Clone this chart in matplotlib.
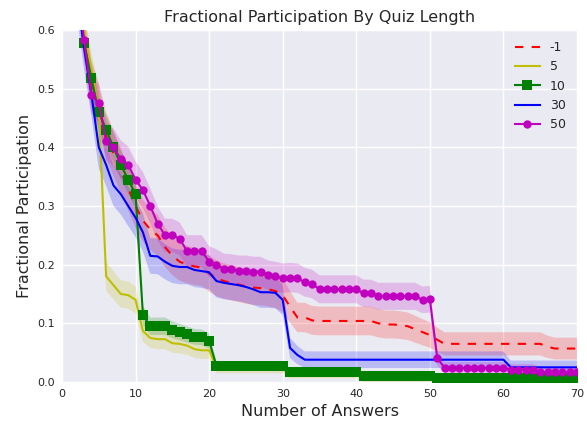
import numpy as np
import matplotlib
matplotlib.use("Agg")
import matplotlib.pyplot as plt

x = np.arange(1, 71)

labels = ["-1", "5", "10", "30", "50"]

vals_m1 = ([1.0, 0.70, 0.59, 0.51, 0.47, 0.42, 0.39, 0.36, 0.33, 0.30,
            0.275, 0.26, 0.25, 0.23, 0.215, 0.205, 0.20, 0.197, 0.195, 0.185,
            0.177, 0.172, 0.169, 0.166, 0.163, 0.161, 0.160, 0.158, 0.155, 0.148,
            0.128, 0.110, 0.110, 0.105] + [0.104] * 8 +
           [0.100, 0.098, 0.098, 0.097, 0.095, 0.090, 0.085, 0.080, 0.072] +
           [0.065] * 14 + [0.060] + [0.057] * 4)

vals_5 = ([1.0, 0.68, 0.60, 0.53, 0.465, 0.18, 0.165, 0.15, 0.148, 0.14,
           0.087, 0.075, 0.073, 0.073, 0.066, 0.065, 0.062, 0.056, 0.054, 0.054] +
          [0.025] * 10 + [0.014] * 10 + [0.004] * 30)

vals_10 = ([1.0, 0.68, 0.578, 0.518, 0.46, 0.43, 0.40, 0.37, 0.345, 0.32,
            0.114, 0.095, 0.095, 0.095, 0.089, 0.085, 0.081, 0.077, 0.076, 0.070] +
           [0.027] * 10 + [0.017] * 10 + [0.010] * 10 + [0.007] * 20)

vals_30 = ([1.0, 0.66, 0.57, 0.49, 0.40, 0.37, 0.335, 0.32, 0.30, 0.28,
            0.255, 0.215, 0.214, 0.205, 0.198, 0.196, 0.196, 0.191, 0.189, 0.187,
            0.172, 0.169, 0.167, 0.165, 0.162, 0.158, 0.153, 0.153, 0.152, 0.140,
            0.058, 0.046] + [0.038] * 28 + [0.025] * 10)

vals_50 = ([1.0, 0.70, 0.583, 0.49, 0.475, 0.41, 0.40, 0.38, 0.37, 0.345,
            0.327, 0.30, 0.27, 0.25, 0.25, 0.244, 0.223, 0.223, 0.223, 0.205,
            0.20, 0.193, 0.192, 0.19, 0.19, 0.188, 0.188, 0.182, 0.18, 0.177,
            0.178, 0.177, 0.170, 0.167] + [0.158] * 6 + [0.151, 0.151] +
           [0.146] * 6 + [0.140, 0.141, 0.041] + [0.024] * 9 + [0.021] * 4 + [0.017] * 6)

# approximate sample sizes used for the shaded confidence bands
sample_n = [600, 900, 1500, 700, 900]

series = [vals_m1, vals_5, vals_10, vals_30, vals_50]
colors = ["r", "y", "g", "b", "m"]
styles = ["--", "-", "-", "-", "-"]
markers = [None, None, "s", None, "o"]
msizes = [0, 0, 7, 0, 6]

plt.rcParams.update({
    "font.family": "DejaVu Sans",
    "axes.facecolor": "#EAEAF2",
    "axes.edgecolor": "white",
    "grid.color": "white",
    "grid.linewidth": 1.0,
    "xtick.color": "0.15",
    "ytick.color": "0.15",
    "axes.labelcolor": "0.15",
    "text.color": "0.15",
})

fig = plt.figure(figsize=(5.87, 4.22), dpi=100)
ax = fig.add_axes([0.1056, 0.0948, 0.8774, 0.8342])

for vals, n, c, ls, mk, ms, lab in zip(series, sample_n, colors, styles, markers, msizes, labels):
    v = np.array(vals)
    hw = 1.96 * np.sqrt(v * (1 - v) / n)
    ax.fill_between(x, v - hw, v + hw, color=c, alpha=0.2, linewidth=0)
    line, = ax.plot(x, v, color=c, linestyle=ls, marker=mk, markersize=ms,
                    markeredgewidth=0, linewidth=1.5, label=lab)
    if ls == "--":
        line.set_dashes((4, 4))

ax.set_xlim(0, 70)
ax.set_ylim(0, 0.6)
ax.set_xticks(np.arange(0, 71, 10))
ax.set_yticks(np.arange(0, 0.61, 0.1))
ax.set_yticklabels(["0.0", "0.1", "0.2", "0.3", "0.4", "0.5", "0.6"])
ax.tick_params(length=0, labelsize=8, pad=5)
ax.grid(True)
ax.set_axisbelow(True)
for s in ax.spines.values():
    s.set_visible(False)

ax.set_title("Fractional Participation By Quiz Length", fontsize=11.5)
ax.set_xlabel("Number of Answers", fontsize=11.5)
ax.set_ylabel("Fractional Participation", fontsize=11.5)
ax.legend(loc="upper right", frameon=False, fontsize=9)

fig.savefig("out.png", dpi=100)
